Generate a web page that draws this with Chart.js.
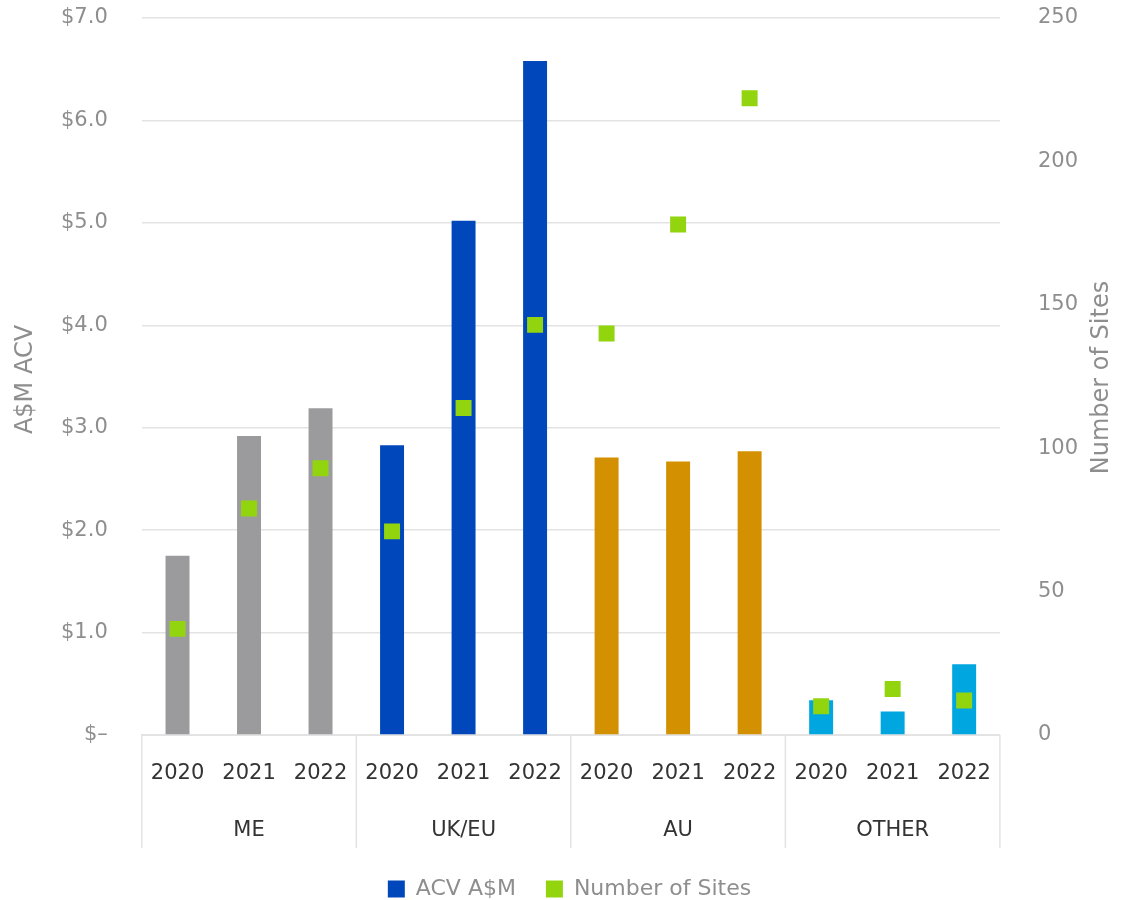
<!DOCTYPE html>
<html>
<head>
<meta charset="utf-8">
<script src="https://cdn.jsdelivr.net/npm/chart.js@4.4.0/dist/chart.umd.min.js"></script>
<style>
  html, body { margin: 0; padding: 0; background: #ffffff; }
  #wrap { width: 1124px; height: 900px; position: relative; }
</style>
</head>
<body>
<div id="wrap"><canvas id="c" width="1124" height="900"></canvas></div>
<script>
const years = ['2020', '2021', '2022', '2020', '2021', '2022', '2020', '2021', '2022', '2020', '2021', '2022'];
const groups = ['ME', 'UK/EU', 'AU', 'OTHER'];
const groupSizes = [3, 3, 3, 3];
const acvValues = [1.75, 2.92, 3.19, 2.83, 5.02, 6.58, 2.71, 2.67, 2.77, 0.34, 0.23, 0.69];
const siteValues = [37, 79, 93, 71, 114, 143, 140, 178, 222, 10, 16, 12];
const leftTitle = 'A$M ACV';
const rightTitle = 'Number of Sites';
const groupColors = ['#9B9B9D', '#0047BB', '#D39000', '#00A6E0'];
const barColors = [];
groups.forEach((g, i) => { for (let k = 0; k < groupSizes[i]; k++) barColors.push(groupColors[i]); });
const legendBarColor = '#0047BB';
const pointColor = '#92D50F';
const tickGray = '#8E8E8E';
const labelDark = '#333333';
const gridColor = '#E3E3E3';
const FONT = "'DejaVu Sans', 'Noto Sans', sans-serif";

const groupPlugin = {
  id: 'groupLabels',
  afterDraw(chart) {
    const ctx = chart.ctx;
    const xs = chart.scales.x;
    const area = chart.chartArea;
    const bottom = area.bottom + 113;
    ctx.save();
    ctx.strokeStyle = gridColor;
    ctx.lineWidth = 1.5;
    const step = xs.getPixelForValue(1) - xs.getPixelForValue(0);
    let idx = 0;
    const edges = [];
    groups.forEach((g, gi) => {
      const first = idx, last = idx + groupSizes[gi] - 1;
      const left = xs.getPixelForValue(first) - step / 2;
      const right = xs.getPixelForValue(last) + step / 2;
      edges.push(left, right);
      ctx.fillStyle = labelDark;
      ctx.font = "21px " + FONT;
      ctx.textAlign = 'center';
      ctx.textBaseline = 'middle';
      ctx.fillText(g, (left + right) / 2, area.bottom + 96);
      idx += groupSizes[gi];
    });
    const uniq = [...new Set(edges.map(v => Math.round(v * 10) / 10))];
    uniq.forEach(x => {
      ctx.beginPath();
      ctx.moveTo(x, area.bottom);
      ctx.lineTo(x, bottom);
      ctx.stroke();
    });
    // axis titles
    const midY = (area.top + area.bottom) / 2;
    ctx.fillStyle = tickGray;
    ctx.font = "24px " + FONT;
    ctx.textAlign = 'center';
    ctx.textBaseline = 'middle';
    ctx.save();
    ctx.translate(26, midY + 3);
    ctx.rotate(-Math.PI / 2);
    ctx.fillText(leftTitle, 0, 0);
    ctx.restore();
    ctx.save();
    ctx.translate(1102, midY + 1);
    ctx.rotate(-Math.PI / 2);
    ctx.fillText(rightTitle, 0, 0);
    ctx.restore();
    ctx.restore();
  }
};

new Chart(document.getElementById('c'), {
  data: {
    labels: years,
    datasets: [
      {
        type: 'bar',
        label: 'ACV A$M',
        data: acvValues,
        backgroundColor: barColors,
        yAxisID: 'y',
        order: 1,
        barPercentage: 0.67,
        categoryPercentage: 0.5
      },
      {
        type: 'line',
        label: 'Number of Sites',
        data: siteValues,
        showLine: false,
        pointStyle: 'rect',
        pointRadius: 11.3,
        pointHoverRadius: 11.3,
        pointBackgroundColor: pointColor,
        pointBorderWidth: 0,
        backgroundColor: pointColor,
        borderColor: pointColor,
        yAxisID: 'y1',
        order: 0
      }
    ]
  },
  options: {
    responsive: false,
    animation: false,
    layout: { padding: { top: 18, left: 57, right: 42, bottom: -10 } },
    plugins: {
      tooltip: { enabled: false },
      legend: {
        position: 'bottom',
        labels: {
          font: { family: FONT, size: 22 },
          color: tickGray,
          boxWidth: 17,
          boxHeight: 17,
          padding: 30,
          generateLabels(chart) {
            return chart.data.datasets.map((ds, i) => ({
              text: ds.label,
              fillStyle: i === 0 ? legendBarColor : pointColor,
              strokeStyle: 'transparent',
              lineWidth: 0,
              fontColor: tickGray,
              datasetIndex: i,
              hidden: false
            }));
          }
        }
      }
    },
    scales: {
      x: {
        grid: { display: false, drawTicks: false },
        border: { display: true, color: gridColor, width: 2 },
        ticks: {
          font: { family: FONT, size: 21 },
          color: labelDark,
          padding: 26,
          maxRotation: 0,
          autoSkip: false
        },
        afterFit(scale) { scale.height = 113; }
      },
      y: {
        position: 'left',
        min: 0,
        max: 7,
        ticks: {
          stepSize: 1,
          font: { family: FONT, size: 21 },
          color: tickGray,
          padding: 4,
          callback: v => v === 0 ? '$\u2013' : '$' + v.toFixed(1)
        },
        grid: { color: gridColor, lineWidth: 1.5, drawTicks: true, tickLength: 30, tickColor: 'rgba(0,0,0,0)' },
        border: { display: false }
      },
      y1: {
        position: 'right',
        min: 0,
        max: 250,
        ticks: {
          stepSize: 50,
          font: { family: FONT, size: 21 },
          color: tickGray,
          padding: 4
        },
        grid: { display: false, drawOnChartArea: false, drawTicks: true, tickLength: 34, tickColor: 'rgba(0,0,0,0)' },
        border: { display: false }
      }
    }
  },
  plugins: [groupPlugin]
});
</script>
</body>
</html>
